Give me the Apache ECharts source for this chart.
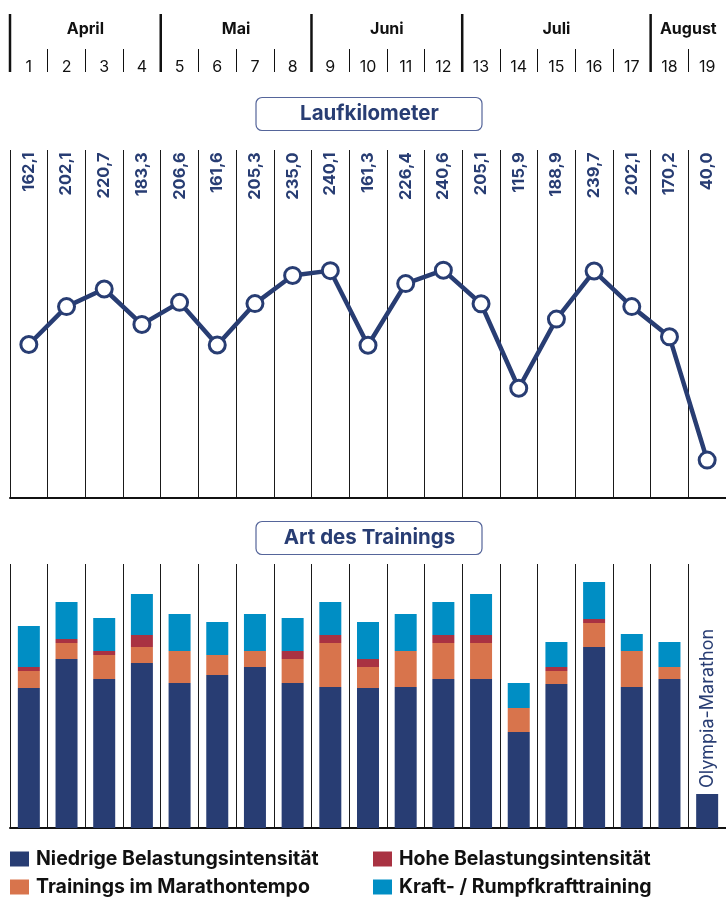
<!DOCTYPE html>
<html>
<head>
<meta charset="utf-8">
<title>Laufkilometer</title>
<script src="https://cdn.jsdelivr.net/npm/echarts@6.0.0/dist/echarts.min.js"></script>
<style>
html, body { margin: 0; padding: 0; background: #fff; }
#main { width: 726px; height: 902px; }
</style>
</head>
<body>
<div id="main"></div>
<script>
// Wochen und Monate
var weeks = ['1','2','3','4','5','6','7','8','9','10','11','12','13','14','15','16','17','18','19'];
var monthNames = ['April', 'Mai', 'Juni', 'Juli', 'August'];
var monthFirstWeek = [0, 4, 8, 12, 17];   // index in weeks
var monthLastWeek = [3, 7, 11, 16, 18];

// Laufkilometer pro Woche
var km = [162.1, 202.1, 220.7, 183.3, 206.6, 161.6, 205.3, 235.0, 240.1, 161.3,
          226.4, 240.6, 205.1, 115.9, 188.9, 239.7, 202.1, 170.2, 40.0];

// Art des Trainings (geschaetzte Umfaenge)
var seriesNames = ['Niedrige Belastungsintensität', 'Trainings im Marathontempo',
                   'Hohe Belastungsintensität', 'Kraft- / Rumpfkrafttraining'];
var niedrig = [140, 169, 149, 165, 145, 153, 161, 145, 141, 140, 141, 149, 149, 96, 144, 181, 141, 149, 34];
var tempo   = [17, 16, 24, 16, 32, 20, 16, 24, 44, 21, 36, 36, 36, 24, 13, 24, 36, 12, 0];
var hohe    = [4, 4, 4, 12, 0, 0, 0, 8, 8, 8, 0, 8, 8, 0, 4, 4, 0, 0, 0];
var kraft   = [41, 37, 33, 41, 37, 33, 37, 33, 33, 37, 37, 33, 41, 25, 25, 37, 17, 25, 0];
var raceWeek = 18;
var raceName = 'Olympia-Marathon';

var navy = '#283d73';
var orange = '#d8744c';
var red = '#a93242';
var blue = '#008ec4';
var ink = '#111';
var font = 'Inter, Roboto, sans-serif';

var kmMax = 367.5;
var kmLabelAt = 365;
var artMax = 264;

var myChart = echarts.init(document.getElementById('main'));

function fmtKm (v) {
  return v.toFixed(1).replace('.', ',');
}

// Monatskopf: dicke Linie + Monatsname
function renderMonth (params, api) {
  var bw = api.size([1, 0])[0];
  var x0 = api.coord([api.value(0), 0])[0] - bw / 2;
  var x1 = api.coord([api.value(1), 0])[0] + bw / 2;
  var yb = api.coord([0, 0])[1];
  var yt = api.coord([0, 1])[1];
  return {
    type: 'group',
    children: [
      { type: 'line', shape: { x1: x0, y1: yt, x2: x0, y2: yb }, style: { stroke: ink, lineWidth: 2.5 } },
      { type: 'text', x: (x0 + x1) / 2, y: yt + 15,
        style: { text: monthNames[params.dataIndex], align: 'center', verticalAlign: 'middle',
                 fontSize: 16, fontWeight: 'bold', fontFamily: font, fill: ink } }
    ]
  };
}

var niedrigData = niedrig.map(function (v, i) {
  if (i !== raceWeek) return v;
  return {
    value: v,
    label: {
      show: true, position: 'top', rotate: 90, align: 'left', verticalAlign: 'middle',
      distance: 6, formatter: raceName, fontSize: 18, color: navy, fontFamily: font
    }
  };
});

function catAxis (idx) {
  return {
    gridIndex: idx, type: 'category', data: weeks, boundaryGap: true,
    axisLine: { show: true, lineStyle: { color: ink, width: 2 } },
    axisTick: { show: false }, axisLabel: { show: false },
    splitLine: { show: true, interval: 0, lineStyle: { color: '#1a1a1a', width: 1 } }
  };
}

// eine Legende pro Eintrag, feste Position
function legendItem (name, x, y) {
  return {
    left: x, top: y, padding: 0, icon: 'rect', itemWidth: 19, itemHeight: 15,
    selectedMode: false, data: [name],
    textStyle: { fontSize: 19.5, fontWeight: 'bold', color: ink, fontFamily: font, padding: [0, 0, 0, 2] }
  };
}

function titleBox (text, y) {
  return [
    { type: 'rect', shape: { x: 256, y: y + 0.5, width: 226, height: 33, r: 6 },
      style: { fill: '#fff', stroke: '#55659a', lineWidth: 1.2 } },
    { type: 'text', x: 369.5, y: y + 17,
      style: { text: text, align: 'center', verticalAlign: 'middle',
               fontSize: 20.5, fontWeight: 'bold', fontFamily: font, fill: navy } }
  ];
}

var option = {
  animation: false,
  backgroundColor: '#fff',
  textStyle: { fontFamily: font },
  grid: [
    { left: 10, top: 14, width: 720, height: 58 },
    { left: 10, top: 150, width: 720, height: 348 },
    { left: 10, top: 564, width: 720, height: 264 }
  ],
  xAxis: [
    {
      gridIndex: 0, type: 'category', data: weeks, boundaryGap: true,
      axisLine: { show: false },
      axisTick: { show: true, inside: true, length: 23, interval: 0, lineStyle: { color: ink, width: 1 } },
      axisLabel: { inside: true, margin: -3, interval: 0, fontSize: 16, color: ink, fontFamily: font }
    },
    catAxis(1),
    catAxis(2)
  ],
  yAxis: [
    { gridIndex: 0, type: 'value', min: 0, max: 1, show: false },
    { gridIndex: 1, type: 'value', min: 0, max: kmMax, show: false },
    { gridIndex: 2, type: 'value', min: 0, max: artMax, show: false }
  ],
  legend: [
    legendItem(seriesNames[0], 10, 849),
    legendItem(seriesNames[1], 10, 877),
    legendItem(seriesNames[2], 373, 849),
    legendItem(seriesNames[3], 373, 877)
  ],
  graphic: titleBox('Laufkilometer', 97).concat(titleBox('Art des Trainings', 521)),
  series: [
    {
      type: 'custom', xAxisIndex: 0, yAxisIndex: 0, clip: false,
      data: monthFirstWeek.map(function (s, i) { return [s, monthLastWeek[i]]; }),
      renderItem: renderMonth
    },
    {
      type: 'line', xAxisIndex: 1, yAxisIndex: 1, data: km, z: 5,
      symbol: 'circle', symbolSize: 16,
      lineStyle: { color: navy, width: 4.5 },
      itemStyle: { color: '#fff', borderColor: navy, borderWidth: 3 }
    },
    {
      type: 'scatter', xAxisIndex: 1, yAxisIndex: 1, symbolSize: 0, silent: true,
      itemStyle: { opacity: 1 },
      data: km.map(function (v, i) { return [i, kmLabelAt]; }),
      label: {
        show: true, position: 'inside', rotate: 90, align: 'right', verticalAlign: 'middle',
        fontSize: 16.5, fontWeight: 'bold', color: navy, fontFamily: font, opacity: 1,
        formatter: function (p) { return fmtKm(km[p.dataIndex]); }
      }
    },
    { name: seriesNames[0], type: 'bar', xAxisIndex: 2, yAxisIndex: 2, stack: 'art', barWidth: 22,
      itemStyle: { color: navy }, data: niedrigData },
    { name: seriesNames[1], type: 'bar', xAxisIndex: 2, yAxisIndex: 2, stack: 'art', barWidth: 22,
      itemStyle: { color: orange }, data: tempo },
    { name: seriesNames[2], type: 'bar', xAxisIndex: 2, yAxisIndex: 2, stack: 'art', barWidth: 22,
      itemStyle: { color: red }, data: hohe },
    { name: seriesNames[3], type: 'bar', xAxisIndex: 2, yAxisIndex: 2, stack: 'art', barWidth: 22,
      itemStyle: { color: blue }, data: kraft }
  ]
};

myChart.setOption(option);
</script>
</body>
</html>
